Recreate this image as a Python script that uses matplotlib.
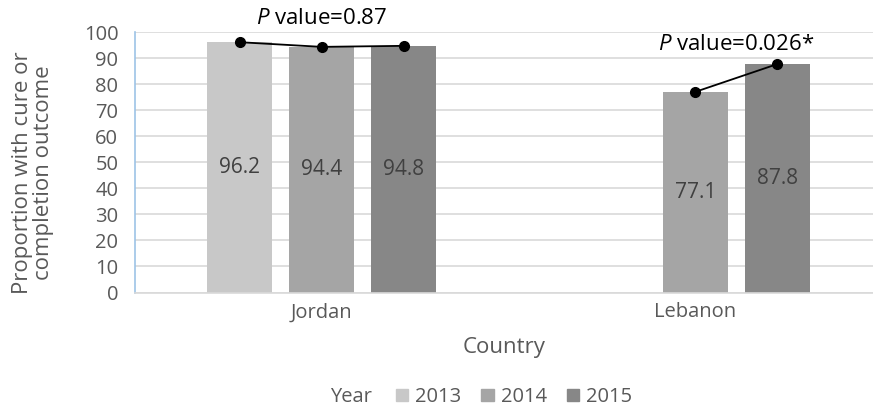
import numpy as np
import matplotlib
matplotlib.use("Agg")
import matplotlib.pyplot as plt
from matplotlib.patches import Patch

plt.rcParams['font.family'] = ['Open Sans', 'DejaVu Sans']
plt.rcParams['mathtext.fontset'] = 'custom'
plt.rcParams['mathtext.it'] = 'Open Sans:italic'
plt.rcParams['mathtext.rm'] = 'Open Sans'

countries = ["Jordan", "Lebanon"]
years = ["2013", "2014", "2015"]
v2013 = [96.2, np.nan]
v2014 = [94.4, 77.1]
v2015 = [94.8, 87.8]
p_values = ["0.87", "0.026*"]
yticks = [0, 10, 20, 30, 40, 50, 60, 70, 80, 90, 100]

colors = ["#C8C8C8", "#A5A5A5", "#878787"]
label_color = "#404040"
text_color = "#595959"

fig = plt.figure(figsize=(8.73, 4.07), dpi=100)
ax = fig.add_axes([135 / 873, 1 - 292.5 / 407, 738 / 873, (292.5 - 32.3) / 407])

x = np.arange(len(countries))
step = 0.22
width = 0.174
series = [v2013, v2014, v2015]
offsets = [-step, 0, step]

ax.set_axisbelow(True)
for vals, off, c, yr in zip(series, offsets, colors, years):
    for xi, v in zip(x, vals):
        if np.isnan(v):
            continue
        ax.bar(xi + off, v, width=width, color=c, zorder=2)
        ax.text(xi + off, v / 2, f"{v:.1f}", ha='center', va='center',
                fontsize=15, color=label_color, zorder=3)

# connecting lines with markers
for i, xi in enumerate(x):
    xs, ys = [], []
    for vals, off in zip(series, offsets):
        if not np.isnan(vals[i]):
            xs.append(xi + off)
            ys.append(vals[i])
    ax.plot(xs, ys, color='black', lw=1.3, marker='o', ms=7, zorder=4, clip_on=False)

# P value labels
ax.text(x[0], 105.4, r"$\it{P}$ value=" + p_values[0], ha='center', va='center',
        fontsize=16, color='black', clip_on=False)
ax.text(x[1] + step / 2, 95.4, r"$\it{P}$ value=" + p_values[1], ha='center', va='center',
        fontsize=16, color='black', clip_on=False)

ax.set_ylim(0, 100)
ax.set_xlim(-0.5, 1.476)
ax.set_yticks(yticks)
ax.set_xticks(x)
ax.set_xticklabels(countries)
ax.tick_params(axis='both', length=0, labelsize=14.5, labelcolor=text_color)
ax.tick_params(axis='y', pad=12)
ax.tick_params(axis='x', pad=7)
ax.yaxis.grid(True, color="#D9D9D9", lw=1.2)
for s in ['top', 'right']:
    ax.spines[s].set_visible(False)
ax.spines['bottom'].set_color("#D9D9D9")
ax.spines['bottom'].set_linewidth(1.2)
ax.spines['left'].set_color("#9DC3E6")
ax.spines['left'].set_linewidth(1.2)

ax.set_xlabel("Country", fontsize=16, color=text_color, labelpad=11)
fig.text(33 / 873, 1 - 173 / 407, "Proportion with cure or\ncompletion outcome",
         rotation=90, ha='center', va='center', fontsize=16, color=text_color,
         linespacing=1.05)

fig.text(351 / 873, 1 - 397 / 407, "Year", ha='center', va='center', fontsize=14.5, color=text_color)
handles = [Patch(color=c, label=yr) for c, yr in zip(colors, years)]
fig.legend(handles=handles, loc='center', bbox_to_anchor=(514 / 873, 1 - 397 / 407), ncol=3,
           frameon=False, fontsize=14.5, labelcolor=text_color, handlelength=0.6,
           handleheight=0.6, handletextpad=0.35, columnspacing=1.0)

fig.savefig("out.png", dpi=100)
